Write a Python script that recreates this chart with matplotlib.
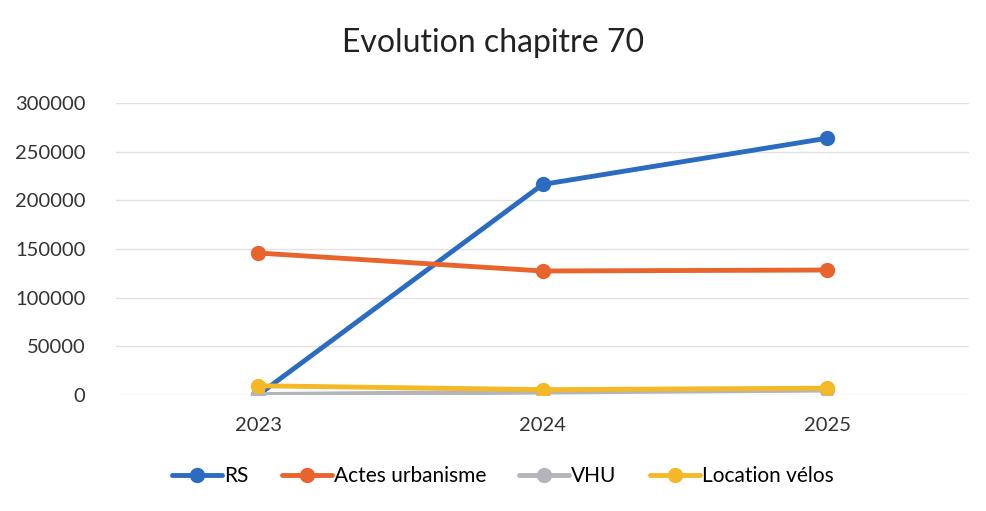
import matplotlib.pyplot as plt

years = ['2023', '2024', '2025']
rs = [0, 216500, 264000]
actes = [146000, 127500, 128500]
vhu = [500, 3000, 5000]
velos = [9500, 5500, 7000]

series = [
    ('RS', rs, '#2b6cc0'),
    ('Actes urbanisme', actes, '#e8642c'),
    ('VHU', vhu, '#b4b4bc'),
    ('Location vélos', velos, '#f5b927'),
]

plt.rcParams['font.family'] = ['Lato', 'DejaVu Sans']

fig = plt.figure(figsize=(9.86, 5.11), dpi=100)
ax = fig.add_axes([0.1176, 0.227, 0.8654, 0.571])

x = range(len(years))
for label, vals, color in series:
    ax.plot(x, vals, color=color, linewidth=3.5, marker='o', markersize=10,
            label=label, solid_capstyle='round', zorder=3)

ax.set_xlim(-0.5, 2.5)
ax.set_ylim(0, 300000)
ax.set_yticks(range(0, 300001, 50000))
ax.set_yticklabels([str(v) for v in range(0, 300001, 50000)])
ax.set_xticks(list(x))
ax.set_xticklabels(years)
ax.tick_params(axis='both', length=0, labelsize=14.5, colors='#333333')
ax.tick_params(axis='y', pad=22)
ax.tick_params(axis='x', pad=16)
ax.grid(axis='y', color='#e2e2e2', linewidth=1)
for s in ax.spines.values():
    s.set_visible(False)

fig.suptitle('Evolution chapitre 70', y=0.945, fontsize=23, color='#222222')
fig.legend(loc='center', bbox_to_anchor=(0.51, 0.068), ncol=4, frameon=False,
           fontsize=15, handlelength=2.4, columnspacing=1.6, handletextpad=0.1)

fig.savefig('out.png', dpi=100)
